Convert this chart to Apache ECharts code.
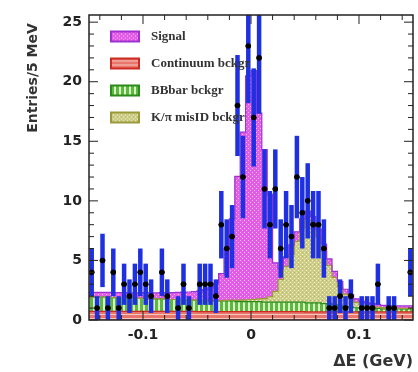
<!DOCTYPE html>
<html><head><meta charset="utf-8">
<script src="https://cdn.jsdelivr.net/npm/echarts@6/dist/echarts.min.js"></script>
<style>html,body{margin:0;padding:0;background:#fff}#c{width:418px;height:372px}</style>
</head><body><div id="c"></div>
<script>
// ---- axis ranges / ticks ----
const xMin = -0.15, xMax = 0.15, binWidth = 0.005;
const yMin = 0, yMax = 25.6;
const xMajorTicks = [-0.1, 0, 0.1];
const xTickLabels = ['-0.1', '0', '0.1'];
const xMinorTicks = [-0.14, -0.12, -0.08, -0.06, -0.04, -0.02, 0.02, 0.04, 0.06, 0.08, 0.12, 0.14];
const yMajorTicks = [0, 5, 10, 15, 20, 25];
const yTickLabels = ['0', '5', '10', '15', '20', '25'];
const yMinorTicks = [1,2,3,4,6,7,8,9,11,12,13,14,16,17,18,19,21,22,23,24];

// ---- data (60 bins of 5 MeV) ----
const dataCounts = [4,1,5,1,4,1,3,2,3,4, 3,2,0,4,2,0,1,3,1,0, 3,3,3,2,8,6,7,18,12,23, 17,22,11,8,11,6,8,7,12,9, 10,8,8,6,1,1,2,1,2,0, 1,1,1,3,0,1,1,0,0,4];
const dataErrors = [2,1,2.24,1,2,1,1.73,1.41,1.73,2, 1.73,1.41,0,2,1.41,0,1,1.73,1,0, 1.73,1.73,1.73,1.41,2.83,2.45,2.65,4.24,3.46,4.8, 4.12,4.69,3.32,2.83,3.32,2.45,2.83,2.65,3.46,3, 3.16,2.83,2.83,2.45,1,1,1.41,1,1.41,0, 1,1,1,1.73,0,1,1,0,0,2];

const continuum = [0.72,0.72,0.72,0.72,0.72,0.72,0.72,0.72,0.72,0.72, 0.72,0.72,0.72,0.72,0.72,0.72,0.72,0.72,0.72,0.72, 0.7,0.7,0.7,0.7,0.7,0.7,0.7,0.7,0.7,0.7, 0.7,0.7,0.7,0.7,0.7,0.7,0.7,0.7,0.7,0.7, 0.68,0.68,0.68,0.68,0.68,0.68,0.68,0.68,0.68,0.68, 0.68,0.68,0.68,0.68,0.68,0.68,0.68,0.68,0.68,0.68];
const bbbar = [1.2,1.2,1.2,1.2,1.15,1.15,1.15,1.1,1.1,1.1, 1.1,1.05,1.05,1.05,1.0,1.0,1.0,1.0,0.95,0.95, 0.95,0.95,0.9,0.9,0.9,0.9,0.9,0.85,0.85,0.85, 0.85,0.85,0.8,0.8,0.8,0.8,0.8,0.8,0.8,0.8, 0.75,0.75,0.75,0.7,0.7,0.6,0.5,0.45,0.4,0.35, 0.3,0.3,0.3,0.3,0.25,0.25,0.25,0.25,0.25,0.25];
const misid = [0,0,0,0,0,0,0,0,0,0, 0,0,0,0,0,0,0,0,0,0, 0,0,0,0,0,0.05,0.08,0.1,0.12,0.15, 0.18,0.22,0.3,0.45,0.9,1.9,3.0,4.0,5.1,6.2, 6.95,6.55,5.55,4.4,3.2,2.3,1.6,1.05,0.7,0.45, 0.3,0.2,0.15,0.1,0.08,0.05,0.05,0.05,0.05,0.05];
const signal = [0.4,0.4,0.4,0.4,0.42,0.42,0.42,0.45,0.45,0.45, 0.47,0.5,0.5,0.52,0.55,0.57,0.6,0.62,0.68,0.72, 0.8,0.9,1.1,1.5,2.3,4.3,6.8,10.4,14.1,18.8, 19.2,15.6,12.5,8.6,2.4,0.9,0.8,0.8,0.8,0.8, 0.75,0.7,0.65,0.6,0.55,0.5,0.45,0.4,0.35,0.3, 0.28,0.26,0.25,0.24,0.22,0.2,0.2,0.2,0.2,0.2];

const layerNames = ['Continuum bckgr', 'BBbar bckgr', 'K/\u03c0 misID bckgr', 'Signal'];
const layers = [continuum, bbbar, misid, signal];

// ---- patterns ----
function makePattern(w, h, draw) {
  const c = document.createElement('canvas'); c.width = w; c.height = h;
  draw(c.getContext('2d')); return c;
}
const patterns = [
  makePattern(4, 4, g => { g.fillStyle = '#e8766c'; g.fillRect(0,0,4,4); g.fillStyle = '#f7c6be'; g.fillRect(0,2,4,1); }),
  makePattern(5, 4, g => { g.fillStyle = '#5fb83e'; g.fillRect(0,0,5,4); g.fillStyle = '#d6f0c8'; g.fillRect(3,0,2,4); }),
  makePattern(4, 4, g => { g.fillStyle = '#cdcd88'; g.fillRect(0,0,4,4); g.fillStyle = '#efefcc'; g.fillRect(0,0,1,1); g.fillRect(2,2,1,1); g.fillStyle = '#b5b56c'; g.fillRect(2,0,1,1); }),
  makePattern(4, 4, g => { g.fillStyle = '#e25ce6'; g.fillRect(0,0,4,4); g.fillStyle = '#f7bdf7'; g.fillRect(0,0,1,1); g.fillRect(2,2,1,1); })
];
const outlines = ['#cc2a22', '#2a8a1a', '#9a9a3a', '#a030d0'];

const N = dataCounts.length;

function layerRender(idx) {
  return function (params, api) {
    const top = [], bottom = [];
    for (let i = 0; i < N; i++) {
      let b = 0;
      for (let k = 0; k < idx; k++) b += layers[k][i];
      const t = b + layers[idx][i];
      const x0 = xMin + i * binWidth, x1 = x0 + binWidth;
      top.push(api.coord([x0, t]), api.coord([x1, t]));
      bottom.push(api.coord([x0, b]), api.coord([x1, b]));
    }
    const poly = top.concat(bottom.slice().reverse());
    return { type: 'group', children: [
      { type: 'polygon', z2: 0, shape: { points: poly }, style: { fill: { image: patterns[idx], repeat: 'repeat' }, stroke: null } },
      { type: 'polyline', z2: 10, shape: { points: top }, style: { stroke: outlines[idx], lineWidth: 1.2, fill: null } }
    ]};
  };
}

const layerSeries = [0, 1, 2, 3].map(idx => ({
  name: layerNames[idx],
  type: 'custom',
  coordinateSystem: 'cartesian2d',
  clip: true,
  data: [[xMin, 0]],
  itemStyle: { color: { image: patterns[idx], repeat: 'repeat' }, borderColor: outlines[idx], borderWidth: 1 },
  renderItem: layerRender(idx),
  silent: true
}));

const pointData = [];
for (let i = 0; i < N; i++) if (dataCounts[i] > 0) pointData.push([xMin + (i + 0.5) * binWidth, dataCounts[i], dataErrors[i], i]);

const dataSeries = {
  name: 'Data', type: 'custom', clip: true, z: 3, silent: true,
  data: pointData,
  renderItem: function (params, api) {
    const xc = api.value(0), v = api.value(1), e = api.value(2);
    const lo = api.coord([xc, v - e]), hi = api.coord([xc, v + e]);
    const l = api.coord([xc - binWidth / 2, v]), r = api.coord([xc + binWidth / 2, v]);
    const c = api.coord([xc, v]);
    return { type: 'group', children: [
      { type: 'line', z2: 1, shape: { x1: lo[0], y1: lo[1], x2: hi[0], y2: hi[1] }, style: { stroke: '#1f30e0', lineWidth: 4.5 } },
      { type: 'line', z2: 5, shape: { x1: l[0], y1: l[1], x2: r[0], y2: r[1] }, style: { stroke: '#000', lineWidth: 1.5 } },
      { type: 'circle', z2: 6, shape: { cx: c[0], cy: c[1], r: 2.8 }, style: { fill: '#000' } }
    ]};
  }
};

function tickLine(p, dx, dy) {
  return { type: 'line', shape: { x1: p[0], y1: p[1], x2: p[0] + dx, y2: p[1] + dy }, style: { stroke: '#222', lineWidth: 1 } };
}
const tickItems = [];
xMajorTicks.forEach(v => tickItems.push(['x', v, 9]));
xMinorTicks.forEach(v => tickItems.push(['x', v, 5]));
yMajorTicks.forEach(v => tickItems.push(['y', v, 9]));
yMinorTicks.forEach(v => tickItems.push(['y', v, 5]));

const tickSeries = {
  name: 'ticks', type: 'custom', z: 4, silent: true, clip: false,
  data: tickItems.map((t, i) => [i, 0]),
  renderItem: function (params, api) {
    const t = tickItems[params.dataIndex];
    const ch = [];
    if (t[0] === 'x') {
      ch.push(tickLine(api.coord([t[1], yMin]), 0, -t[2]));
      ch.push(tickLine(api.coord([t[1], yMax]), 0, t[2]));
    } else {
      ch.push(tickLine(api.coord([xMin, t[1]]), t[2], 0));
      ch.push(tickLine(api.coord([xMax, t[1]]), -t[2], 0));
    }
    if (params.dataIndex === 0) {
      const a = api.coord([xMin, yMax]), b = api.coord([xMax, yMin]);
      ch.push({ type: 'rect', shape: { x: a[0], y: a[1], width: b[0] - a[0], height: b[1] - a[1] }, style: { fill: null, stroke: '#222', lineWidth: 1.5 } });
    }
    return { type: 'group', children: ch };
  }
};

function fmtTick(list, labels) {
  return v => { for (let i = 0; i < list.length; i++) if (Math.abs(v - list[i]) < 1e-6) return labels[i]; return ''; };
}

const chart = echarts.init(document.getElementById('c'), null, { renderer: 'canvas' });
chart.setOption({
  animation: false,
  backgroundColor: '#fff',
  grid: { left: 89, right: 5, top: 15, bottom: 52, show: false },
  xAxis: {
    type: 'value', min: xMin, max: xMax, interval: 0.05,
    axisLine: { show: false }, axisTick: { show: false }, splitLine: { show: false },
    axisLabel: { formatter: fmtTick(xMajorTicks, xTickLabels), color: '#222', fontFamily: 'DejaVu Sans', fontWeight: 'bold', fontSize: 14, margin: 8, showMinLabel: true, showMaxLabel: true }
  },
  yAxis: {
    type: 'value', min: yMin, max: yMax, interval: 5,
    axisLine: { show: false }, axisTick: { show: false }, splitLine: { show: false },
    axisLabel: { formatter: fmtTick(yMajorTicks, yTickLabels), color: '#222', fontFamily: 'DejaVu Sans', fontWeight: 'bold', fontSize: 14, margin: 7 }
  },
  legend: {
    data: ['Signal', 'Continuum bckgr', 'BBbar bckgr', 'K/\u03c0 misID bckgr'],
    orient: 'vertical', left: 110, top: 30, padding: 0,
    itemWidth: 28, itemHeight: 10, itemGap: 14, icon: 'rect',
    textStyle: { fontFamily: 'Liberation Serif', fontWeight: 'bold', fontSize: 13, color: '#333', padding: [0, 0, 0, 7] },
    selectedMode: false
  },
  graphic: [
    { type: 'text', x: 33, y: 78, rotation: Math.PI / 2, style: { text: 'Entries/5 MeV', font: 'bold 14px "DejaVu Sans"', fill: '#333', align: 'center', verticalAlign: 'middle' } },
    { type: 'text', x: 413, y: 362, style: { text: '\u0394E (GeV)', font: 'bold 16px "DejaVu Sans"', fill: '#333', align: 'right', verticalAlign: 'middle' } }
  ],
  series: layerSeries.concat([dataSeries, tickSeries])
});
</script></body></html>
